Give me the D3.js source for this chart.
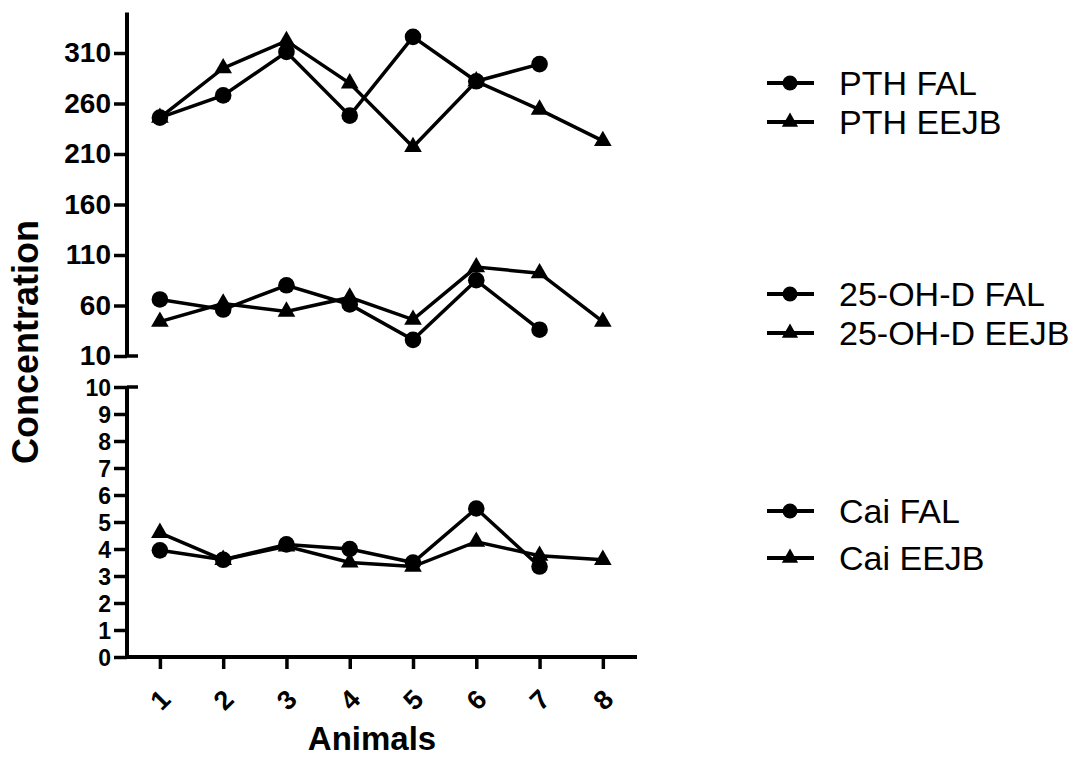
<!DOCTYPE html>
<html>
<head>
<meta charset="utf-8">
<script src="https://cdn.jsdelivr.net/npm/d3@7"></script>
<style>
  body { margin: 0; background: #fff; }
  svg { display: block; }
  text { font-family: "Liberation Sans", Arial, sans-serif; }
</style>
</head>
<body>
<svg id="chart" width="1085" height="758"></svg>
<script>
/* data */
var animals = [1, 2, 3, 4, 5, 6, 7, 8];
var pthFal = [246, 268, 311, 248, 326, 282, 299];
var pthEejb = [246, 295, 322, 280, 217, 282, 254, 223];
var ohdFal = [66, 56, 80, 61, 26, 85, 36];
var ohdEejb = [44, 62, 54, 68, 46, 98, 92, 44];
var caiFal = [3.95, 3.6, 4.17, 4.0, 3.5, 5.5, 3.35];
var caiEejb = [4.6, 3.6, 4.1, 3.5, 3.35, 4.27, 3.75, 3.6];

var topTicks = [10, 60, 110, 160, 210, 260, 310];
var bottomTicks = [0, 1, 2, 3, 4, 5, 6, 7, 8, 9, 10];

var svg = d3.select("#chart");

/* scales: one x, two y segments (broken axis) */
var x = d3.scaleLinear().domain([0.48, 8.54]).range([127, 637]);
var yTop = d3.scaleLinear().domain([10, 350]).range([356, 12.6]);
var yBottom = d3.scaleLinear().domain([0, 10]).range([657, 387]);

var axisX = 127;

/* axes */
function styleAxis(g, size) {
	g.attr("font-family", null).attr("font-size", size);
	g.select(".domain").remove();
	g.selectAll(".tick line").attr("stroke", "#000").attr("stroke-width", 3.5);
	g.selectAll(".tick text")
		.attr("fill", "#000")
		.style("font-size", size + "px")
		.style("font-weight", "bold");
}

var gTop = svg.append("g")
	.attr("transform", "translate(" + axisX + ",0)")
	.call(d3.axisLeft(yTop).tickValues(topTicks).tickSize(13).tickPadding(3));
styleAxis(gTop, 28);

/* bottom ticks are only 27px apart, so the labels stay a bit smaller */
var gBottom = svg.append("g")
	.attr("transform", "translate(" + axisX + ",0)")
	.call(d3.axisLeft(yBottom).tickValues(bottomTicks).tickSize(13).tickPadding(3));
styleAxis(gBottom, 23);
gBottom.selectAll(".tick text").attr("dy", "0.36em");

/* vertical axis lines with the break caps */
svg.append("line")
	.attr("x1", axisX).attr("x2", axisX)
	.attr("y1", yTop(350)).attr("y2", yTop(10))
	.attr("stroke", "#000").attr("stroke-width", 4);
svg.append("line")
	.attr("x1", axisX).attr("x2", axisX)
	.attr("y1", yBottom(10)).attr("y2", yBottom(0) + 2)
	.attr("stroke", "#000").attr("stroke-width", 4);
svg.append("line")
	.attr("x1", axisX).attr("x2", axisX + 11)
	.attr("y1", yTop(10)).attr("y2", yTop(10))
	.attr("stroke", "#000").attr("stroke-width", 3.5);
svg.append("line")
	.attr("x1", axisX).attr("x2", axisX + 11)
	.attr("y1", yBottom(10)).attr("y2", yBottom(10))
	.attr("stroke", "#000").attr("stroke-width", 3.5);

/* x axis */
var gX = svg.append("g")
	.attr("transform", "translate(0," + yBottom(0) + ")")
	.call(d3.axisBottom(x).tickValues(animals).tickSize(12).tickFormat(d3.format("d")));
styleAxis(gX, 27);
gX.selectAll(".tick text")
	.attr("text-anchor", "middle")
	.attr("dy", null)
	.attr("y", 0)
	.attr("dominant-baseline", "central")
	.attr("transform", "translate(0,43) rotate(-45)");

svg.append("line")
	.attr("x1", axisX - 2).attr("x2", 637)
	.attr("y1", yBottom(0)).attr("y2", yBottom(0))
	.attr("stroke", "#000").attr("stroke-width", 4);

/* axis titles */
svg.append("text")
	.attr("x", 372)
	.attr("y", 750)
	.attr("text-anchor", "middle")
	.style("font-size", "33px")
	.style("font-weight", "bold")
	.text("Animals");

svg.append("text")
	.attr("transform", "translate(38,342) rotate(-90)")
	.attr("text-anchor", "middle")
	.style("font-size", "36px")
	.style("font-weight", "bold")
	.text("Concentration");

/* series */
var series = [
	{name: "PTH FAL", values: pthFal, y: yTop, shape: "circle"},
	{name: "PTH EEJB", values: pthEejb, y: yTop, shape: "triangle"},
	{name: "25-OH-D FAL", values: ohdFal, y: yTop, shape: "circle"},
	{name: "25-OH-D EEJB", values: ohdEejb, y: yTop, shape: "triangle"},
	{name: "Cai FAL", values: caiFal, y: yBottom, shape: "circle"},
	{name: "Cai EEJB", values: caiEejb, y: yBottom, shape: "triangle"}
];

var triangle = d3.symbol().type(d3.symbolTriangle).size(135);
var triangleSmall = d3.symbol().type(d3.symbolTriangle).size(115);

function drawMarker(g, shape, cx, cy, small) {
	if (shape == "circle") {
		g.append("circle")
			.attr("cx", cx).attr("cy", cy)
			.attr("r", small ? 7.5 : 8.3)
			.attr("fill", "#000");
	} else {
		g.append("path")
			.attr("d", small ? triangleSmall() : triangle())
			.attr("transform", "translate(" + cx + "," + cy + ")")
			.attr("fill", "#000");
	}
}

series.forEach(function(s) {
	var pts = s.values.map(function(v, i) {
		return [x(animals[i]), s.y(v)];
	});
	var g = svg.append("g");
	g.append("path")
		.attr("d", d3.line()(pts))
		.attr("fill", "none")
		.attr("stroke", "#000")
		.attr("stroke-width", 3.5);
	pts.forEach(function(p) {
		drawMarker(g, s.shape, p[0], p[1], false);
	});
});

/* legend */
var legendRows = [83, 122, 294, 333, 511, 558];
var legend = svg.append("g");
series.forEach(function(s, i) {
	var ly = legendRows[i];
	legend.append("line")
		.attr("x1", 767).attr("x2", 814)
		.attr("y1", ly).attr("y2", ly)
		.attr("stroke", "#000").attr("stroke-width", 4);
	drawMarker(legend, s.shape, 790, ly, true);
	legend.append("text")
		.attr("x", 839)
		.attr("y", ly)
		.attr("dominant-baseline", "central")
		.style("font-size", "34px")
		.attr("fill", "#000")
		.text(s.name);
});
</script>
</body>
</html>
